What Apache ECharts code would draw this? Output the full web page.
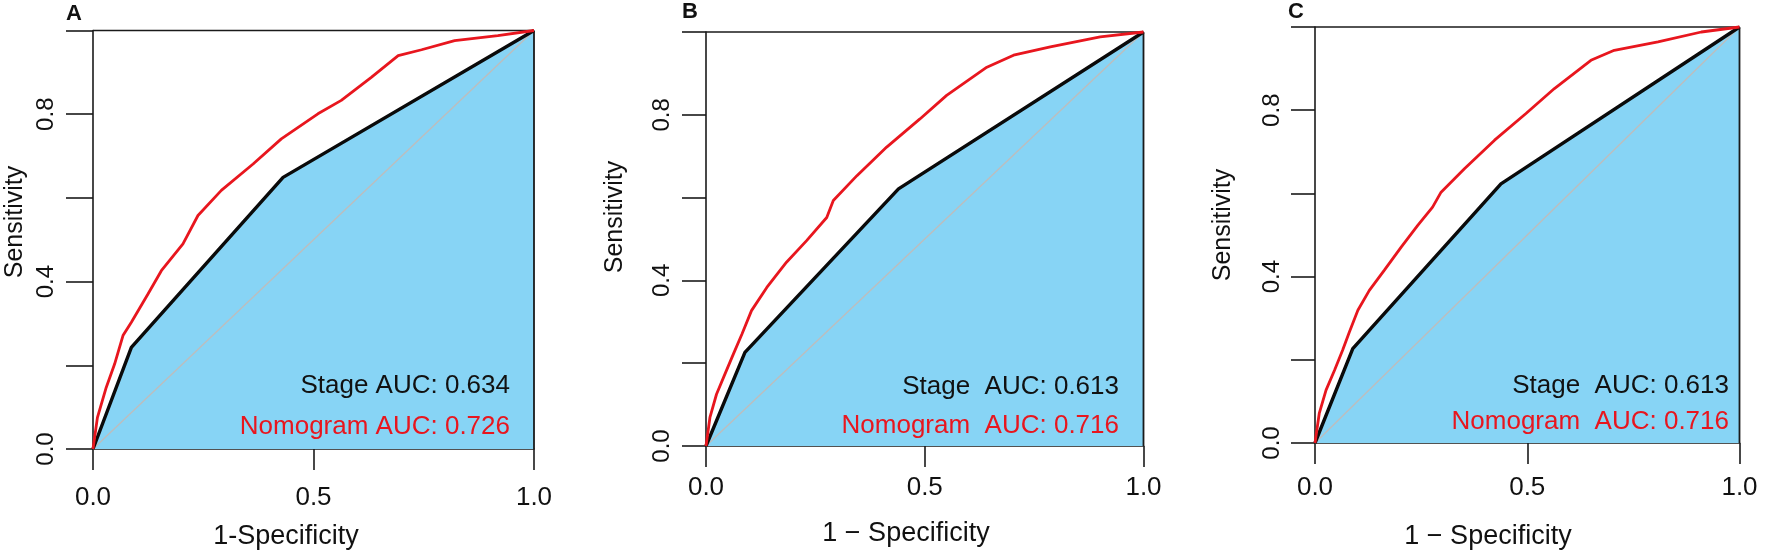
<!DOCTYPE html>
<html>
<head>
<meta charset="utf-8">
<script src="https://cdn.jsdelivr.net/npm/echarts@6/dist/echarts.min.js"></script>
<style>
  html, body { margin: 0; padding: 0; background: #fff; }
  #main { width: 1772px; height: 552px; }
</style>
</head>
<body>
<div id="main"></div>
<script type="text/javascript">
// ROC curves: [1-specificity, sensitivity]
var stageA = [[0, 0], [0.087, 0.243], [0.431, 0.649], [1, 1]];
var nomoA = [[0, 0], [0.010, 0.075], [0.030, 0.147], [0.049, 0.203], [0.068, 0.271], [0.087, 0.303],
  [0.125, 0.371], [0.155, 0.426], [0.204, 0.490], [0.238, 0.558], [0.291, 0.618], [0.363, 0.681],
  [0.427, 0.741], [0.510, 0.801], [0.563, 0.833], [0.631, 0.888], [0.692, 0.940], [0.745, 0.954],
  [0.820, 0.976], [0.918, 0.988], [1, 1]];

var stageB = [[0, 0], [0.089, 0.226], [0.440, 0.621], [1, 1]];
var nomoB = [[0, 0], [0.009, 0.069], [0.024, 0.125], [0.043, 0.173], [0.0625, 0.222], [0.082, 0.270],
  [0.104, 0.327], [0.139, 0.383], [0.184, 0.444], [0.230, 0.496], [0.276, 0.552], [0.291, 0.593],
  [0.345, 0.653], [0.413, 0.722], [0.489, 0.790], [0.550, 0.847], [0.642, 0.915], [0.703, 0.944],
  [0.787, 0.964], [0.901, 0.988], [1, 1]];

var stageC = [[0, 0], [0.089, 0.227], [0.438, 0.623], [1, 1]];
var nomoC = [[0, 0], [0.010, 0.071], [0.026, 0.127], [0.046, 0.175], [0.065, 0.223], [0.081, 0.267],
  [0.101, 0.319], [0.128, 0.367], [0.163, 0.415], [0.203, 0.471], [0.242, 0.523], [0.277, 0.567],
  [0.297, 0.603], [0.352, 0.659], [0.423, 0.728], [0.497, 0.792], [0.564, 0.852], [0.650, 0.920],
  [0.705, 0.944], [0.808, 0.964], [0.910, 0.988], [1, 1]];

var panelTags = ['A', 'B', 'C'];
var stageText = ['Stage AUC: 0.634', 'Stage  AUC: 0.613', 'Stage  AUC: 0.613'];
var nomoText = ['Nomogram AUC: 0.726', 'Nomogram  AUC: 0.716', 'Nomogram  AUC: 0.716'];
var xTitles = ['1-Specificity', '1 \u2212 Specificity', '1 \u2212 Specificity'];
var yTitle = 'Sensitivity';

var FONT = "'Liberation Sans', Arial, sans-serif";
var RED = '#e8161e';
var FILL = '#87d4f5';

var chart = echarts.init(document.getElementById('main'));

// pixel layout of the three panels
var panels = [
  { left: 93, top: 30.5, width: 441, height: 418.5, ytick: 27, xm: 36, ym: 35,
    tagX: 74, tagY: 14, yTitleX: 15, yTitleY: 222, xTitleX: 286, xTitleY: 537, textRight: 510, stY: 386, noY: 427 },
  { left: 706, top: 32, width: 437.5, height: 414, ytick: 24, xm: 29, ym: 32,
    tagX: 690, tagY: 11.5, yTitleX: 615, yTitleY: 217, xTitleX: 906, xTitleY: 534, textRight: 1119, stY: 387, noY: 425.5 },
  { left: 1315, top: 27, width: 424.5, height: 416, ytick: 24, xm: 32, ym: 31,
    tagX: 1296, tagY: 11.5, yTitleX: 1223, yTitleY: 225, xTitleX: 1488, xTitleY: 537, textRight: 1729, stY: 386, noY: 422 }
];
var stages = [stageA, stageB, stageC];
var nomos = [nomoA, nomoB, nomoC];

var grids = [], xAxes = [], yAxes = [], series = [], graphics = [];

panels.forEach(function (p, i) {
  grids.push({ left: p.left, top: p.top, width: p.width, height: p.height, containLabel: false });
  xAxes.push({
    type: 'value', gridIndex: i, min: 0, max: 1, interval: 0.5,
    axisLine: { show: true, onZero: false, lineStyle: { color: '#1a1a1a', width: 1.6 } },
    axisTick: { show: true, length: 21, inside: false, lineStyle: { color: '#1a1a1a', width: 1.6 } },
    axisLabel: { margin: p.xm, fontSize: 26, color: '#111', fontFamily: FONT,
      formatter: function (v) { return v.toFixed(1); } },
    splitLine: { show: false }
  });
  yAxes.push({
    type: 'value', gridIndex: i, min: 0, max: 1, interval: 0.2,
    axisLine: { show: true, onZero: false, lineStyle: { color: '#1a1a1a', width: 1.6 } },
    axisTick: { show: true, length: p.ytick, lineStyle: { color: '#1a1a1a', width: 1.6 } },
    axisLabel: { margin: p.ym, fontSize: 24, color: '#111', fontFamily: FONT, rotate: 90,
      formatter: function (v) {
        var k = Math.round(v * 10);
        return (k % 4 === 0 && k < 10) ? v.toFixed(1) : '';
      } },
    splitLine: { show: false }
  });

  // blue area under the stage curve
  series.push({ type: 'line', xAxisIndex: i, yAxisIndex: i, data: stages[i], symbol: 'none',
    lineStyle: { width: 0 }, areaStyle: { color: FILL, opacity: 1 }, silent: true });
  // chance diagonal
  series.push({ type: 'line', xAxisIndex: i, yAxisIndex: i, data: [[0, 0], [1, 1]], symbol: 'none',
    lineStyle: { color: '#bdbdbd', width: 1.4 }, silent: true });
  // right edge and top edge
  series.push({ type: 'line', xAxisIndex: i, yAxisIndex: i, data: [[1, 0], [1, 1]], symbol: 'none',
    lineStyle: { color: '#1a1a1a', width: 1.8 }, silent: true, clip: false });
  series.push({ type: 'line', xAxisIndex: i, yAxisIndex: i, data: [[0, 1], [1, 1]], symbol: 'none',
    lineStyle: { color: '#1a1a1a', width: 1.6 }, silent: true, clip: false });
  // stage ROC
  series.push({ type: 'line', xAxisIndex: i, yAxisIndex: i, data: stages[i], symbol: 'none',
    lineStyle: { color: '#0a0a0a', width: 3.4 }, silent: true });
  // nomogram ROC
  series.push({ type: 'line', xAxisIndex: i, yAxisIndex: i, data: nomos[i], symbol: 'none',
    lineStyle: { color: RED, width: 2.8 }, silent: true, clip: false });

  graphics.push({ type: 'text', x: p.tagX, y: p.tagY, z: 100,
    style: { text: panelTags[i], font: 'bold 22px ' + FONT, fill: '#111', align: 'center', verticalAlign: 'middle' } });
  graphics.push({ type: 'text', x: p.yTitleX, y: p.yTitleY, rotation: Math.PI / 2, z: 100,
    style: { text: yTitle, font: '25px ' + FONT, fill: '#111', align: 'center', verticalAlign: 'middle' } });
  graphics.push({ type: 'text', x: p.xTitleX, y: p.xTitleY, z: 100,
    style: { text: xTitles[i], font: '27px ' + FONT, fill: '#111', align: 'center', verticalAlign: 'middle' } });
  graphics.push({ type: 'text', x: p.textRight, y: p.stY, z: 100,
    style: { text: stageText[i], font: '26px ' + FONT, fill: '#111', align: 'right', verticalAlign: 'middle' } });
  graphics.push({ type: 'text', x: p.textRight, y: p.noY, z: 100,
    style: { text: nomoText[i], font: '26px ' + FONT, fill: RED, align: 'right', verticalAlign: 'middle' } });
});

chart.setOption({
  backgroundColor: '#fff',
  animation: false,
  grid: grids,
  xAxis: xAxes,
  yAxis: yAxes,
  series: series,
  graphic: graphics
});
</script>
</body>
</html>
